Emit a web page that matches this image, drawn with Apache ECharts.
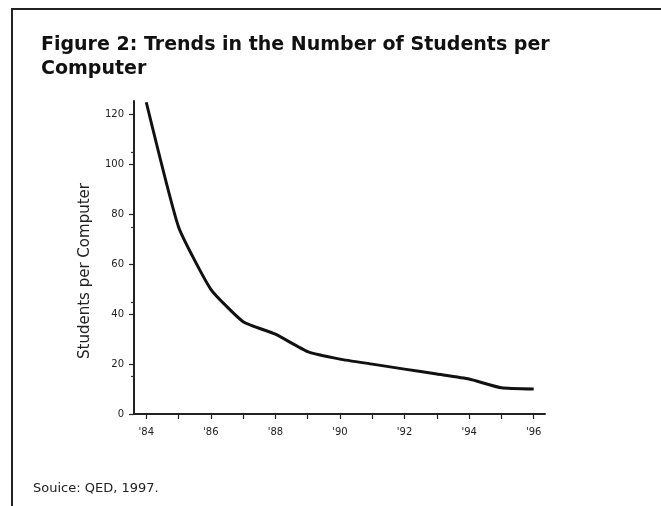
<!DOCTYPE html>
<html>
<head>
<meta charset="utf-8">
<script src="https://cdn.jsdelivr.net/npm/echarts@6/dist/echarts.min.js"></script>
<style>html,body{margin:0;padding:0;background:#fff;}#c{width:661px;height:506px;}</style>
</head>
<body>
<div id="c"></div>
<script>
const years = [84, 85, 86, 87, 88, 89, 90, 91, 92, 93, 94, 95, 96];
const studentsPerComputer = [125, 75, 50, 37, 32, 25, 22, 20, 18, 16, 14, 10.5, 10];
const xTickValues = [84, 85, 86, 87, 88, 89, 90, 91, 92, 93, 94, 95, 96];
const xLabelValues = [84, 86, 88, 90, 92, 94, 96];
const yTickValues = [0, 20, 40, 60, 80, 100, 120];

const chart = echarts.init(document.getElementById('c'), null, {renderer: 'canvas'});
const font = '"DejaVu Sans", sans-serif';
chart.setOption({
  animation: false,
  backgroundColor: '#fff',
  title: {
    text: 'Figure 2: Trends in the Number of Students per\nComputer',
    left: 36, top: 28,
    textStyle: {fontFamily: font, fontWeight: 'bold', fontSize: 19, lineHeight: 24, color: '#111'}
  },
  graphic: [
    {type: 'line', shape: {x1: 11, y1: 9, x2: 661, y2: 9}, style: {stroke: '#222', lineWidth: 2}},
    {type: 'line', shape: {x1: 12, y1: 8, x2: 12, y2: 506}, style: {stroke: '#222', lineWidth: 2}},
    {type: 'text', x: 85, y: 271, rotation: Math.PI / 2,
     style: {text: 'Students per Computer', font: '15px "DejaVu Sans", sans-serif', fill: '#222', align: 'center', verticalAlign: 'middle'}},
    {type: 'text', left: 33, top: 482, style: {text: 'Souice: QED, 1997.', font: '13px "DejaVu Sans", sans-serif', fill: '#222'}}
  ],
  grid: {left: 134, right: 116, top: 101, bottom: 92},
  xAxis: {
    type: 'value', min: 83.62, max: 96.35,
    axisLine: {lineStyle: {color: '#222', width: 2}},
    axisTick: {show: true, customValues: xTickValues, length: 5, lineStyle: {color: '#222', width: 1.2}},
    axisLabel: {customValues: xLabelValues, formatter: v => "'" + v, fontFamily: font, fontSize: 10, color: '#222', margin: 13},
    splitLine: {show: false}
  },
  yAxis: {
    type: 'value', min: 0, max: 125.5,
    axisLine: {show: true, lineStyle: {color: '#222', width: 2}},
    axisTick: {show: true, customValues: yTickValues, length: 5, lineStyle: {color: '#222', width: 1.2}},
    minorTick: {show: true, splitNumber: 2, length: 3, lineStyle: {color: '#333', width: 1.2}},
    axisLabel: {customValues: yTickValues, fontFamily: font, fontSize: 10, color: '#222', margin: 10},
    splitLine: {show: false}
  },
  series: [{
    type: 'line',
    data: years.map((y, i) => [y, studentsPerComputer[i]]),
    showSymbol: false,
    smooth: 0.15,
    lineStyle: {color: '#111', width: 3}
  }]
});
</script>
</body>
</html>
